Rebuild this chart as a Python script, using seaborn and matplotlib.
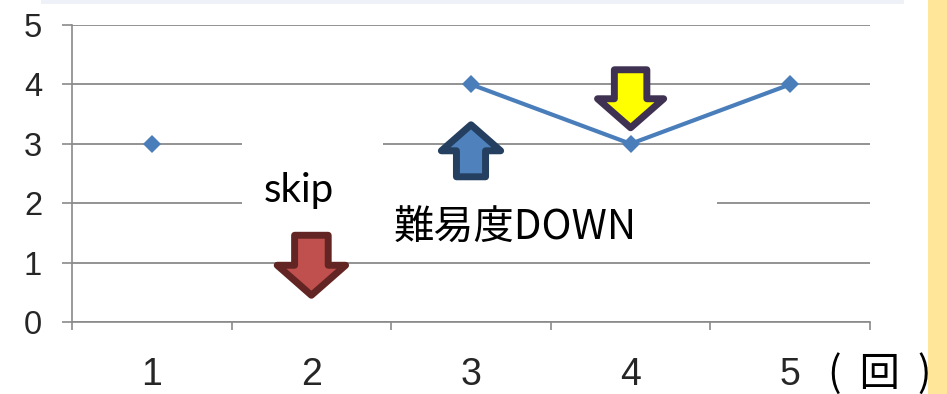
import numpy as np
import pandas as pd
import matplotlib
matplotlib.use("Agg")
import matplotlib.pyplot as plt
import matplotlib.transforms as mtransforms
from matplotlib.patches import Polygon, Rectangle
import seaborn as sns

# ---- data -------------------------------------------------------------
rounds = [1, 2, 3, 4, 5]
scores = [3, np.nan, 4, 3, 4]          # round 2 was skipped
y_ticks = [0, 1, 2, 3, 4, 5]
x_labels = ["1", "2", "3", "4", "5"]

# block arrows: anchored at the arrow tip (round, score level)
arrow_x = [2, 3, 4]
arrow_tip_y = [0.45, 3.32, 3.27]
arrow_dir = [-1, 1, -1]                 # -1 points down, +1 points up
arrow_len_px = [60, 52, 58]
arrow_fill = ["#C0504D", "#4F81BD", "#FFFF00"]
arrow_edge = ["#632523", "#243F60", "#3F3151"]

note_skip = "skip"
note_down = "難易度DOWN"
unit_label = "(  回  )"

LINE = "#4A7EBB"
GRID = "#8A8A8A"
DPI = 100
W, H = 947, 394

sns.set_theme(style="white")
plt.rcParams["font.family"] = ["Liberation Sans", "DejaVu Sans"]

fig = plt.figure(figsize=(W / DPI, H / DPI), dpi=DPI)
fig.patch.set_facecolor("white")

# plot area in pixels: x 72..870, y 25..322
ax = fig.add_axes([72 / W, (H - 322) / H, (870 - 72) / W, (322 - 25) / H])
ax.set_facecolor("none")

# split the series into runs so the skipped round leaves a gap
df = pd.DataFrame({"round": rounds, "score": scores})
df["run"] = df["score"].isna().cumsum()
df = df.dropna()

sns.lineplot(data=df, x="round", y="score", units="run", estimator=None,
             color=LINE, linewidth=3.0, marker="D", markersize=9,
             markeredgewidth=0, legend=False, ax=ax, zorder=5)

ax.set_xlim(0.5, 5.5)
ax.set_ylim(0, 5)
ax.set_xlabel("")
ax.set_ylabel("")

# y axis: gridlines with outward ticks
ax.set_yticks(y_ticks)
ax.set_yticklabels([str(v) for v in y_ticks], fontsize=23.5)
ax.yaxis.grid(True, color=GRID, linewidth=1.3)
ax.tick_params(axis="y", which="major", length=7.5, width=1.2, color=GRID,
               direction="out", pad=14, left=True)

# x axis: category labels centred, tick marks on category boundaries
ax.set_xticks(rounds)
ax.set_xticklabels(x_labels, fontsize=27)
ax.tick_params(axis="x", which="major", length=0, pad=25)
ax.set_xticks(np.arange(0.5, 5.6, 1.0), minor=True)
ax.tick_params(axis="x", which="minor", length=6, width=1.2, color=GRID,
               direction="out", bottom=True)

for side in ("top", "right"):
    ax.spines[side].set_visible(False)
for side in ("left", "bottom"):
    ax.spines[side].set_color(GRID)
    ax.spines[side].set_linewidth(1.2)
ax.set_axisbelow(True)

# white text boxes behind the notes
ax.add_patch(Rectangle((1.565, 1.55), 2.449 - 1.565, 3.10 - 1.55,
                       facecolor="white", edgecolor="none", zorder=2))
ax.add_patch(Rectangle((2.449, 1.11), 4.541 - 2.449, 2.86 - 1.11,
                       facecolor="white", edgecolor="none", zorder=2))

ax.text(1.92, 2.02, note_skip, ha="center", va="baseline", fontsize=29,
        family=["Lato", "DejaVu Sans"], color="black", zorder=7)
ax.text(3.279, 1.38, note_down, ha="center", va="baseline", fontsize=29,
        family=["Noto Sans CJK JP", "DejaVu Sans"], color="black", zorder=7)

# block arrows, shape given in pixels relative to the tip
for x, y, d, L, fc, ec in zip(arrow_x, arrow_tip_y, arrow_dir,
                              arrow_len_px, arrow_fill, arrow_edge):
    s = -d
    hw, hl, sw = 0.57 * L, 0.5 * L, 0.28 * L
    verts = np.array([(0, 0), (hw, s * hl), (sw, s * hl), (sw, s * L),
                      (-sw, s * L), (-sw, s * hl), (-hw, s * hl)]) / DPI
    trans = fig.dpi_scale_trans + mtransforms.ScaledTranslation(x, y, ax.transData)
    ax.add_patch(Polygon(verts, closed=True, transform=trans, facecolor=fc,
                         edgecolor=ec, linewidth=5, joinstyle="round",
                         zorder=6, clip_on=False))

# decorative strips framing the slide
fig.patches.append(Rectangle((41 / W, (H - 4) / H), (904 - 41) / W, 4 / H,
                             transform=fig.transFigure, facecolor="#EEF2F8",
                             edgecolor="none", zorder=0))
fig.patches.append(Rectangle((928 / W, 0), (W - 928) / W, 1,
                             transform=fig.transFigure, facecolor="#FFE699",
                             edgecolor="none", zorder=0))

# unit label after the last category
fig.text(880 / W, (H - 386) / H, unit_label, ha="center", va="baseline",
         fontsize=29, family=["Noto Sans CJK JP", "DejaVu Sans"], color="black",
         zorder=8)

fig.savefig("out.png", dpi=DPI, facecolor="white")
